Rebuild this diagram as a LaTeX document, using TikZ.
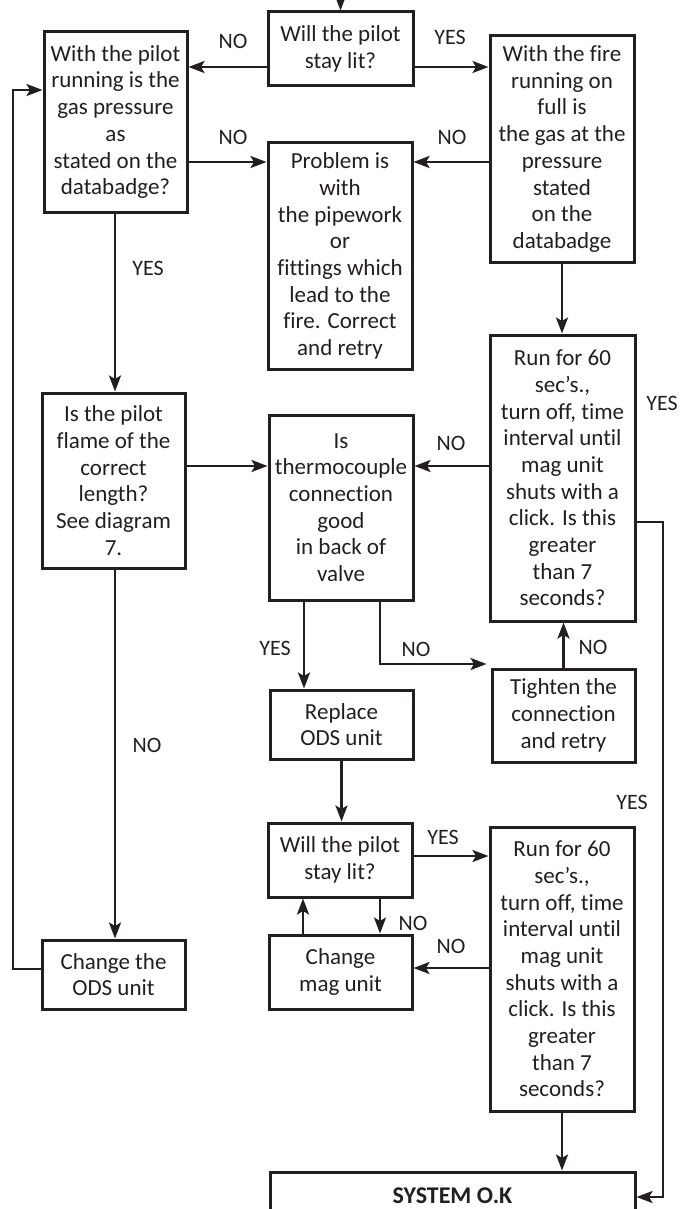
\documentclass[tikz,border=0pt]{standalone}
\usepackage{fontspec}
\setmainfont{Carlito}[Ligatures=NoCommon]
\usetikzlibrary{arrows.meta}
\definecolor{ink}{HTML}{231F20}
\begin{document}
\begin{tikzpicture}[x=1pt,y=-1pt,
  box/.style={draw=ink, line width=3pt, align=center, inner sep=0pt, text=ink,
              font=\fontsize{23}{26.7}\selectfont},
  lbl/.style={text=ink, inner sep=0pt, font=\fontsize{22}{25}\selectfont},
  arr/.style={draw=ink, line width=2.6pt, -{Stealth[length=16pt,width=12pt,inset=3.5pt]}}]
\useasboundingbox (0,0) rectangle (697,1209);
\fill[white] (0,0) rectangle (697,1209);
\clip (0,0) rectangle (697,1209);

% boxes
\node[box, minimum width=145pt, minimum height=74pt] (A) at (340.5,49) {Will the pilot\\stay lit?};
\node[box, minimum width=143pt, minimum height=180pt] (B) at (115.5,122) {With the pilot\\running is the\\gas pressure\\as\\stated on the\\databadge?};
\node[box, minimum width=144pt, minimum height=226pt] (C) at (562,149) {With the fire\\running on\\full is\\the gas at the\\pressure\\stated\\on the\\databadge};
\node[box, minimum width=144pt, minimum height=226pt] (D) at (340,256) {Problem is\\with\\the pipework\\or\\fittings which\\lead to the\\fire. Correct\\and retry};
\node[box, minimum width=143pt, minimum height=175pt] (E) at (113.5,480.5) {Is the pilot\\flame of the\\correct\\length?\\See diagram\\7.};
\node[box, minimum width=145pt, minimum height=286pt] (F) at (562.5,478) {Run for 60\\sec’s.,\\turn off, time\\interval until\\mag unit\\shuts with a\\click. Is this\\greater\\than 7\\seconds?};
\node[box, minimum width=144pt, minimum height=185pt] (G) at (341,507.5) {Is\\thermocouple\\connection\\good\\in back of\\valve};
\node[box, minimum width=143pt, minimum height=69pt] (H) at (341.5,724.5) {Replace\\ODS unit};
\node[box, minimum width=143pt, minimum height=93pt] (I) at (563.5,715.5) {Tighten the\\connection\\and retry};
\node[box, minimum width=144pt, minimum height=74pt] (J) at (340,860) {Will the pilot\\stay lit?};
\node[box, minimum width=144pt, minimum height=284pt] (F2) at (562,969) {Run for 60\\sec’s.,\\turn off, time\\interval until\\mag unit\\shuts with a\\click. Is this\\greater\\than 7\\seconds?};
\node[box, minimum width=143pt, minimum height=69pt] (K) at (113.5,974.5) {Change the\\ODS unit};
\node[box, minimum width=143pt, minimum height=74pt] (L) at (340.5,972) {Change\\mag unit};
\node[box, minimum width=365pt, minimum height=80pt] (S) at (452.5,1212) {};
\node[text=ink, inner sep=0pt, font=\fontsize{24}{27}\selectfont\bfseries] (St) at (452.5,1196) {SYSTEM O.K};

% connectors
\coordinate (top) at (340.5,0);
\draw[arr] (top) -- (A.north);
\draw[arr] (A.west |- 0,67) -- (B.east |- 0,67);
\node[lbl] (n1) at (233,41) {NO};
\draw[arr] (A.east |- 0,67) -- (C.west |- 0,67);
\node[lbl] (y1) at (450,37) {YES};
\draw[arr] (B.east |- 0,162) -- (D.west |- 0,162);
\node[lbl] (n2) at (233,137) {NO};
\draw[arr] (C.west |- 0,162) -- (D.east |- 0,162);
\node[lbl] (n3) at (452,137) {NO};
\draw[arr] (B.south -| 115,0) -- (E.north -| 115,0);
\node[lbl] (y2) at (148,268) {YES};
\draw[arr] (C.south) -- (C.south |- F.north);
\draw[arr] (E.east |- 0,466) -- (G.west |- 0,466);
\draw[arr] (F.west |- 0,466) -- (G.east |- 0,466);
\node[lbl] (n4) at (451,443) {NO};
\node[lbl] (y3) at (662,403) {YES};
\coordinate (r1) at (663,522);
\coordinate (r2) at (663,1197);
\draw[arr] (F.east |- r1) -- (r1) -- (r2) -- (S.east |- r2);
\draw[arr] (G.south -| 304,0) -- (H.north -| 304,0);
\node[lbl] (y4) at (275,648) {YES};
\coordinate (g2) at (380,664);
\draw[arr] (G.south -| g2) -- (g2) -- ([xshift=-4pt]I.west |- g2);
\node[lbl] (n5) at (416,649) {NO};
\draw[arr] (I.north) -- (I.north |- F.south);
\node[lbl] (n6) at (593,647) {NO};
\draw[arr] (H.south) -- (H.south |- J.north);
\draw[arr] (J.east |- 0,856) -- (F2.west |- 0,856);
\node[lbl] (y5) at (443,837) {YES};
\node[lbl] (y6) at (632,802) {YES};
\draw[arr] (L.north -| 303,0) -- (J.south -| 303,0);
\draw[arr] (J.south -| 380,0) -- (L.north -| 380,0);
\node[lbl] (n7) at (413,923) {NO};
\draw[arr] (F2.west |- 0,968) -- (L.east |- 0,968);
\node[lbl] (n8) at (451,946) {NO};
\draw[arr] (F2.south) -- (F2.south |- S.north);
\draw[arr] (E.south -| 115,0) -- (K.north -| 115,0);
\node[lbl] (n9) at (147,745) {NO};
\coordinate (f1) at (13,969);
\coordinate (f2) at (13,90);
\draw[arr] (K.west |- f1) -- (f1) -- (f2) -- (B.west |- f2);
\end{tikzpicture}
\end{document}
